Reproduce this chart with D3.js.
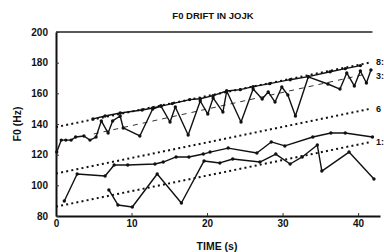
<!DOCTYPE html>
<html>
<head>
<meta charset="utf-8">
<script src="https://cdn.jsdelivr.net/npm/d3@7"></script>
<style>
  body { margin: 0; background: #fff; }
  svg { display: block; font-family: "Liberation Sans", Arial, sans-serif; font-weight: bold; }
</style>
</head>
<body>
<div id="chart"></div>
<script>
const width = 384;
const height = 252;
const margin = { top: 32, right: 4, bottom: 36, left: 56 };

// Data: [time (s), F0 (Hz)].
const series8 = [
  [4.9, 143.3], [6.5, 145.2], [8.5, 147.2], [11.4, 149.1], [12.8, 150.4],
  [13.9, 151.7], [15.4, 153.3], [17.7, 155.9], [19.1, 156.5], [20.8, 158.5],
  [22.6, 161.5], [24.4, 162.4], [26.1, 164.4], [28.3, 166.3], [31.0, 168.9],
  [33.4, 170.9], [36.3, 174.1], [38.3, 176.1], [40.3, 178.1]
];
const series3 = [
  [0.1, 121.7], [0.7, 129.5], [1.3, 129.5], [2.0, 129.5], [2.6, 131.5],
  [3.7, 132.2], [4.5, 129.5], [5.3, 131.5], [6.0, 142.0], [6.9, 134.1],
  [7.5, 142.0], [8.5, 145.2], [8.9, 137.4], [11.1, 132.2], [12.8, 149.8],
  [13.9, 151.7], [15.1, 141.3], [15.8, 151.1], [17.5, 132.8], [19.1, 155.0],
  [20.1, 146.5], [20.8, 157.0], [22.1, 147.8], [22.6, 161.5], [24.5, 141.3],
  [26.1, 162.8], [27.3, 156.3], [28.1, 160.9], [29.0, 154.3], [29.9, 164.1],
  [30.7, 158.9], [31.7, 145.2], [33.4, 170.7], [36.0, 166.1], [37.6, 162.8],
  [38.5, 173.3], [39.5, 164.8], [40.3, 174.6], [41.1, 166.7], [41.7, 175.2]
];
const series1 = [
  [1.1, 89.8], [2.8, 107.4], [6.5, 106.1], [7.7, 113.3], [9.5, 113.3],
  [13.1, 113.9], [14.2, 115.2], [15.9, 118.5], [17.6, 118.5], [19.5, 120.4],
  [20.4, 121.7], [22.8, 124.3], [26.6, 121.1], [28.5, 128.3], [30.3, 125.7],
  [34.0, 131.5], [36.4, 134.1], [38.3, 134.1], [41.9, 131.5]
];
const series6 = [
  [7.0, 97.0], [8.2, 87.2], [10.1, 85.9], [13.4, 107.4], [16.6, 88.5],
  [19.6, 115.9], [21.7, 114.6], [23.4, 117.2], [27.0, 115.2], [29.1, 120.4],
  [31.0, 113.9], [32.6, 118.5], [34.6, 126.3], [35.2, 109.3], [38.8, 121.7],
  [42.1, 104.1]
];

// Fitted drift lines.
const fit8 = [[0, 138.0], [41.5, 180.0]];
const fit3 = [[5.0, 133.5], [41.0, 172.5]];
const fit6 = [[0, 107.7], [41.7, 150.0]];
const fit1 = [[0, 86.1], [41.7, 128.3]];

const lineLabels = ["8:", "3:", "6", "1:"];
const labelValues = [180.5, 171.5, 150.0, 128.5];

const xTicks = [0, 10, 20, 30, 40];
const yTicks = [80, 100, 120, 140, 160, 180, 200];

const svg = d3.select("#chart")
  .append("svg")
  .attr("width", width)
  .attr("height", height);

const x = d3.scaleLinear()
  .domain([0, 42.9])
  .range([margin.left, width - margin.right]);

const y = d3.scaleLinear()
  .domain([80, 200])
  .range([height - margin.bottom, margin.top]);

const line = d3.line()
  .x(d => x(d[0]))
  .y(d => y(d[1]));

// Frame top.
svg.append("line")
  .attr("x1", x(0))
  .attr("x2", x(41.9))
  .attr("y1", y(200))
  .attr("y2", y(200))
  .attr("stroke", "#222")
  .attr("stroke-width", 1.5);

// Axes.
const xAxis = svg.append("g")
  .attr("transform", `translate(0,${y(80)})`)
  .call(d3.axisBottom(x)
    .tickValues(xTicks)
    .tickSizeInner(-3)
    .tickSizeOuter(0)
    .tickPadding(4));

const yAxis = svg.append("g")
  .attr("transform", `translate(${x(0)},0)`)
  .call(d3.axisLeft(y)
    .tickValues(yTicks)
    .tickSizeInner(-3)
    .tickSizeOuter(0)
    .tickPadding(8));

[xAxis, yAxis].forEach(axis => {
  axis.select(".domain").attr("stroke", "#111").attr("stroke-width", 2);
  axis.selectAll(".tick line").attr("stroke", "#333");
  axis.selectAll("text")
    .attr("fill", "#111")
    .style("font-size", "10px")
    .style("font-weight", "bold");
});

// Fit lines.
svg.append("g")
  .selectAll("path")
  .data([fit8, fit6, fit1])
  .join("path")
  .attr("d", line)
  .attr("fill", "none")
  .attr("stroke", "#111")
  .attr("stroke-width", 2)
  .attr("stroke-dasharray", "2,3.2");

svg.append("path")
  .attr("d", line(fit3))
  .attr("fill", "none")
  .attr("stroke", "#333")
  .attr("stroke-width", 1)
  .attr("stroke-dasharray", "5,5");

// Series.
const allSeries = [series8, series3, series1, series6];

svg.append("g")
  .selectAll("path")
  .data(allSeries)
  .join("path")
  .attr("d", line)
  .attr("fill", "none")
  .attr("stroke", "#111")
  .attr("stroke-width", 1.4)
  .attr("stroke-linejoin", "round");

svg.append("g")
  .selectAll("circle")
  .data(allSeries.flat())
  .join("circle")
  .attr("cx", d => x(d[0]))
  .attr("cy", d => y(d[1]))
  .attr("r", 1.7)
  .attr("fill", "#111");

// Line labels at right edge.
svg.append("g")
  .selectAll("text")
  .data(lineLabels)
  .join("text")
  .attr("x", 376)
  .attr("y", (d, i) => y(labelValues[i]))
  .attr("dy", "0.35em")
  .attr("fill", "#111")
  .style("font-size", "9px")
  .text(d => d);

// Titles.
svg.append("text")
  .attr("x", 213)
  .attr("y", 18.5)
  .attr("text-anchor", "middle")
  .attr("fill", "#111")
  .style("font-size", "9.5px")
  .text("F0 DRIFT IN JOJK");

svg.append("text")
  .attr("x", 217)
  .attr("y", 249.5)
  .attr("text-anchor", "middle")
  .attr("fill", "#111")
  .style("font-size", "10.5px")
  .text("TIME (s)");

svg.append("text")
  .attr("transform", `translate(21,${(y(80) + y(200)) / 2}) rotate(-90)`)
  .attr("text-anchor", "middle")
  .attr("fill", "#111")
  .style("font-size", "10.5px")
  .text("F0 (Hz)");
</script>
</body>
</html>
